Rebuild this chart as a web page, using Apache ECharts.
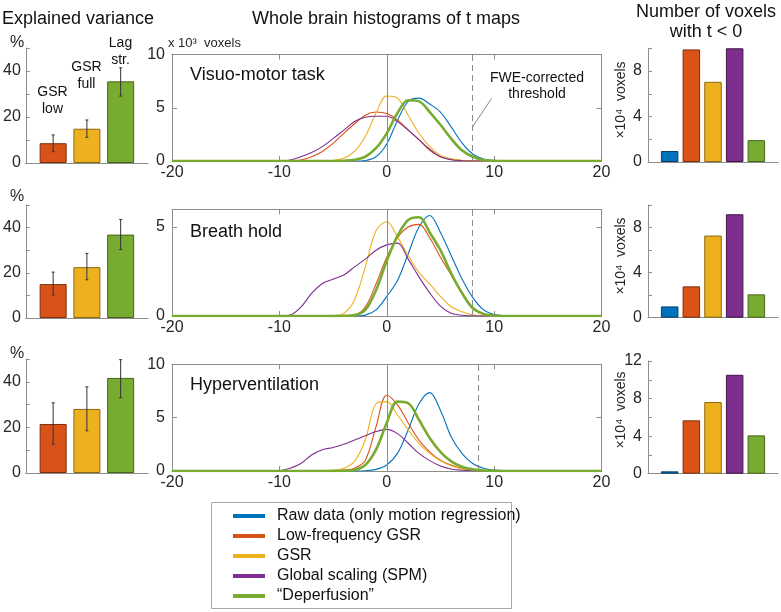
<!DOCTYPE html>
<html><head><meta charset="utf-8">
<script src="https://cdn.jsdelivr.net/npm/echarts/dist/echarts.min.js"></script>
<style>html,body{margin:0;padding:0;background:#fff}#c{width:781px;height:612px}</style>
</head><body><div id="c"></div>
<script>
// ---------------- DATA ----------------
const METHODS = ['Raw data (only motion regression)', 'Low-frequency GSR', 'GSR', 'Global scaling (SPM)', '\u201CDeperfusion\u201D'];
const CONDITIONS = ['Visuo-motor task', 'Breath hold', 'Hyperventilation'];
const EV_CATEGORIES = ['GSR\nlow', 'GSR\nfull', 'Lag\nstr.'];

// Explained variance (%) per condition: GSR low, GSR full, Lag str.
const EV_VISUO = [8.6, 14.9, 35.5];
const EV_VISUO_LO = [4.9, 11.2, 29.1];
const EV_VISUO_HI = [12.2, 18.7, 41.4];
const EV_BREATH = [15.0, 22.5, 36.9];
const EV_BREATH_LO = [10.2, 16.9, 30.3];
const EV_BREATH_HI = [20.3, 28.6, 43.6];
const EV_HYPER = [21.5, 28.1, 41.7];
const EV_HYPER_LO = [12.6, 18.5, 33.0];
const EV_HYPER_HI = [30.8, 37.8, 49.7];

// Number of voxels with t<0 (x10^4), per method
const NEG_VISUO = [0.97, 9.9, 7.05, 10.0, 1.92];
const NEG_BREATH = [1.0, 2.78, 7.29, 9.18, 2.07];
const NEG_HYPER = [0.25, 5.68, 7.63, 10.53, 4.08];

// Histogram t values
const T = [-20,-19,-18,-17,-16,-15,-14,-13,-12,-11,-10,-9,-8,-7,-6,-5,-4,-3,-2,-1,0,1,2,3,4,5,6,7,8,9,10,11,12,13,14,15,16,17,18,19,20];
// Histogram counts (x10^3 voxels)
const H_VISUO_RAW   = [0,0,0,0,0,0,0,0,0,0,0,0,0,0,0,0,0,0, 0.05,0.4,1.6,3.8,5.6,5.9,5.35,4.6,3.2,1.7,0.66,0.18,0.04, 0,0,0,0,0,0,0,0,0,0];
const H_VISUO_LFGSR = [0,0,0,0,0,0,0,0,0,0,0, 0.03,0.1,0.4,0.9,1.65,2.6,3.5,4.3,4.6,4.45,3.85,2.9,2.0,1.0,0.4,0.15,0.05,0.01, 0,0,0,0,0,0,0,0,0,0,0,0];
const H_VISUO_GSR   = [0,0,0,0,0,0,0,0,0,0,0,0,0,0, 0.01,0.05,0.25,0.9,2.3,4.5,6.1,5.9,4.3,2.6,1.35,0.55,0.2,0.05,0.01, 0,0,0,0,0,0,0,0,0,0,0,0];
const H_VISUO_GS    = [0,0,0,0,0,0,0,0,0,0, 0.03,0.1,0.4,0.8,1.35,2.1,2.9,3.7,4.1,4.2,4.2,3.7,2.9,2.0,1.1,0.4,0.12,0.03, 0,0,0,0,0,0,0,0,0,0,0,0,0];
const H_VISUO_DEP   = [0,0,0,0,0,0,0,0,0,0,0,0,0,0,0,0, 0.03,0.12,0.4,1.2,2.6,4.5,5.7,5.6,4.6,3.4,2.1,1.0,0.4,0.1,0.02, 0,0,0,0,0,0,0,0,0,0];

const H_BREATH_RAW   = [0,0,0,0,0,0,0,0,0,0,0,0,0,0,0,0,0,0, 0.05,0.34,1.1,2.0,3.5,5.0,5.65,4.7,3.4,2.1,1.05,0.36,0.08,0.02, 0,0,0,0,0,0,0,0,0];
const H_BREATH_LFGSR = [0,0,0,0,0,0,0,0,0,0,0,0,0,0,0,0, 0.01,0.05,0.5,1.8,3.3,4.4,5.0,5.15,4.4,3.3,2.3,1.3,0.5,0.12,0.03, 0,0,0,0,0,0,0,0,0,0];
const H_BREATH_GSR   = [0,0,0,0,0,0,0,0,0,0,0,0,0,0,0, 0.03,0.15,0.9,2.75,4.8,5.3,4.45,3.4,2.45,1.8,1.1,0.52,0.24,0.07,0.02, 0,0,0,0,0,0,0,0,0,0,0];
const H_BREATH_GS    = [0,0,0,0,0,0,0,0,0,0, 0.01,0.05,0.5,1.27,1.83,2.07,2.3,2.76,3.2,3.7,4.0,4.1,3.2,2.2,1.3,0.55,0.15,0.04,0.01, 0,0,0,0,0,0,0,0,0,0,0,0];
const H_BREATH_DEP   = [0,0,0,0,0,0,0,0,0,0,0,0,0,0,0,0, 0.01,0.05,0.34,1.45,3.1,4.5,5.4,5.55,4.7,3.7,2.4,1.3,0.45,0.12,0.03, 0,0,0,0,0,0,0,0,0,0];

const H_HYPER_RAW   = [0,0,0,0,0,0,0,0,0,0,0,0,0,0,0,0,0,0, 0.03,0.15,0.56,1.65,3.85,6.3,7.35,5.7,3.2,1.65,0.7,0.25,0.08,0.02, 0,0,0,0,0,0,0,0,0];
const H_HYPER_LFGSR = [0,0,0,0,0,0,0,0,0,0,0,0,0,0,0, 0.02,0.08,0.25,1.0,4.15,7.1,6.2,4.5,2.9,1.8,1.0,0.56,0.25,0.1,0.03, 0,0,0,0,0,0,0,0,0,0,0];
const H_HYPER_GSR   = [0,0,0,0,0,0,0,0,0,0,0,0,0,0, 0.02,0.08,0.25,0.9,2.9,6.3,6.5,5.25,3.85,2.6,1.65,0.97,0.5,0.2,0.07,0.02, 0,0,0,0,0,0,0,0,0,0,0];
const H_HYPER_GS    = [0,0,0,0,0,0,0,0,0,0, 0.03,0.25,0.7,1.5,2.0,2.2,2.5,2.9,3.3,3.7,3.9,3.5,2.6,1.65,0.97,0.47,0.19,0.07,0.02, 0,0,0,0,0,0,0,0,0,0,0,0];
const H_HYPER_DEP   = [0,0,0,0,0,0,0,0,0,0,0,0,0,0,0,0, 0.02,0.1,0.56,2.0,4.5,6.5,6.35,4.8,3.1,1.8,0.9,0.4,0.15,0.05,0.01, 0,0,0,0,0,0,0,0,0,0];

const FWE_THRESHOLD = [8.0, 8.0, 8.5];
const HIST_YMAX = [10, 6, 10];
const NEG_YMAX = [10, 10, 12];

// ---------------- STYLE / LAYOUT ----------------
const COLORS = ['#0072BD', '#D95319', '#EDB120', '#7E2F8E', '#77AC30'];
const EDGES = ['#0a3d63', '#7d2d0c', '#8c6812', '#3f1549', '#45661a'];
const EV_COLOR_IDX = [1, 2, 4];
const AX = '#8c8c8c', TXT = '#262626';
const FONT = '"Liberation Sans", Arial, Helvetica, sans-serif';

const LEFT_ROWS = [[48, 163], [205, 318], [359, 473]];
const MID_ROWS = [[54.5, 161], [209.3, 316], [364.3, 471]];
const RIGHT_ROWS = [[48.3, 162], [205, 317.7], [361, 473.7]];
const RIGHT_NAME_Y = [100, 256, 410];

const EV = [[EV_VISUO, EV_VISUO_LO, EV_VISUO_HI], [EV_BREATH, EV_BREATH_LO, EV_BREATH_HI], [EV_HYPER, EV_HYPER_LO, EV_HYPER_HI]];
const NEG = [NEG_VISUO, NEG_BREATH, NEG_HYPER];
const HIST = [
  [H_VISUO_RAW, H_VISUO_LFGSR, H_VISUO_GSR, H_VISUO_GS, H_VISUO_DEP],
  [H_BREATH_RAW, H_BREATH_LFGSR, H_BREATH_GSR, H_BREATH_GS, H_BREATH_DEP],
  [H_HYPER_RAW, H_HYPER_LFGSR, H_HYPER_GSR, H_HYPER_GS, H_HYPER_DEP]
];

const grids = [], xAxes = [], yAxes = [], series = [], graphics = [];
const lbl = (extra) => Object.assign({color: TXT, fontSize: 16, fontFamily: FONT}, extra);
const line = {show: true, onZero: false, lineStyle: {color: AX, width: 1}};

for (let r = 0; r < 3; r++) {
  // ---- left: explained variance ----
  let g = grids.push({left: 25, width: 123, top: LEFT_ROWS[r][0], height: LEFT_ROWS[r][1] - LEFT_ROWS[r][0]}) - 1;
  let xi = xAxes.push({type: 'value', gridIndex: g, min: 0.19, max: 3.81, axisLine: line, axisTick: {show: false}, axisLabel: {show: false}, splitLine: {show: false}}) - 1;
  let yi = yAxes.push({type: 'value', gridIndex: g, min: 0, max: 50, interval: 10, axisLine: line,
    axisTick: {show: true, inside: true, length: 4, lineStyle: {color: AX}}, splitLine: {show: false},
    axisLabel: lbl({margin: 5, formatter: v => (v % 20 === 0 ? String(v) : '')})}) - 1;
  const [vals, lo, hi] = EV[r];
  series.push({type: 'bar', xAxisIndex: xi, yAxisIndex: yi, barWidth: 27, silent: true,
    data: vals.map((v, i) => ({value: [i + 1, v], itemStyle: {color: COLORS[EV_COLOR_IDX[i]], borderColor: EDGES[EV_COLOR_IDX[i]], borderWidth: 1}}))});
  series.push({type: 'custom', xAxisIndex: xi, yAxisIndex: yi, silent: true, z: 10,
    data: vals.map((v, i) => [i + 1, lo[i], hi[i]]),
    renderItem: (p, api) => {
      const a = api.coord([api.value(0), api.value(1)]);
      const b = api.coord([api.value(0), api.value(2)]);
      const st = {stroke: '#333', lineWidth: 1};
      return {type: 'group', children: [
        {type: 'line', shape: {x1: a[0], y1: a[1], x2: b[0], y2: b[1]}, style: st},
        {type: 'line', shape: {x1: a[0] - 1.5, y1: a[1], x2: a[0] + 1.5, y2: a[1]}, style: st},
        {type: 'line', shape: {x1: b[0] - 1.5, y1: b[1], x2: b[0] + 1.5, y2: b[1]}, style: st}
      ]};
    }});

  // ---- middle: histograms ----
  g = grids.push({left: 172, width: 429.5, top: MID_ROWS[r][0], height: MID_ROWS[r][1] - MID_ROWS[r][0]}) - 1;
  xi = xAxes.push({type: 'value', gridIndex: g, min: -20, max: 20, interval: 10, axisLine: line,
    axisTick: {show: true, inside: true, length: 5, lineStyle: {color: AX}}, splitLine: {show: false},
    axisLabel: lbl({margin: 4})}) - 1;
  xAxes.push({type: 'value', gridIndex: g, position: 'top', min: -20, max: 20, interval: 10, axisLine: line,
    axisTick: {show: true, inside: true, length: 5, lineStyle: {color: AX}}, splitLine: {show: false}, axisLabel: {show: false}});
  yi = yAxes.push({type: 'value', gridIndex: g, min: 0, max: HIST_YMAX[r], interval: 5, axisLine: line,
    axisTick: {show: true, inside: true, length: 5, lineStyle: {color: AX}}, splitLine: {show: false},
    axisLabel: lbl({margin: 7, formatter: v => (v % 5 === 0 ? String(v) : '')})}) - 1;
  yAxes.push({type: 'value', gridIndex: g, position: 'right', min: 0, max: HIST_YMAX[r], interval: 5, axisLine: line,
    axisTick: {show: true, inside: true, length: 5, lineStyle: {color: AX}}, splitLine: {show: false}, axisLabel: {show: false}});
  HIST[r].forEach((arr, k) => {
    const s = {type: 'line', name: METHODS[k], xAxisIndex: xi, yAxisIndex: yi, showSymbol: false, symbol: 'none',
      smooth: 0.35, silent: true, z: k === 4 ? 5 : 3,
      data: T.map((t, i) => [t, arr[i]]),
      itemStyle: {color: COLORS[k]}, lineStyle: {color: COLORS[k], width: k === 4 ? 2.6 : 1.1}};
    if (k === 0) {
      s.markLine = {silent: true, symbol: ['none', 'none'], label: {show: false}, animation: false,
        data: [
          {xAxis: 0, lineStyle: {color: '#8c8c8c', type: 'solid', width: 1}},
          {xAxis: FWE_THRESHOLD[r], lineStyle: {color: '#8c8c8c', type: [6, 4], width: 1}}
        ]};
    }
    series.push(s);
  });

  // ---- right: number of voxels with t<0 ----
  g = grids.push({left: 648, width: 130, top: RIGHT_ROWS[r][0], height: RIGHT_ROWS[r][1] - RIGHT_ROWS[r][0]}) - 1;
  xi = xAxes.push({type: 'value', gridIndex: g, min: 0, max: 6, axisLine: line, axisTick: {show: false}, axisLabel: {show: false}, splitLine: {show: false}}) - 1;
  yi = yAxes.push({type: 'value', gridIndex: g, min: 0, max: NEG_YMAX[r], interval: 2, axisLine: line,
    axisTick: {show: true, inside: true, length: 4, lineStyle: {color: AX}}, splitLine: {show: false},
    axisLabel: lbl({margin: 6, formatter: v => (v % 4 === 0 ? String(v) : '')})}) - 1;
  series.push({type: 'bar', xAxisIndex: xi, yAxisIndex: yi, barWidth: 17.5, silent: true,
    data: NEG[r].map((v, i) => ({value: [i + 1, v], itemStyle: {color: COLORS[i], borderColor: EDGES[i], borderWidth: 1}}))});
  graphics.push({type: 'text', x: 621, y: RIGHT_NAME_Y[r], rotation: Math.PI / 2,
    style: {text: '\u00D710\u2074  voxels', fill: TXT, font: '14px ' + FONT, textAlign: 'center', textVerticalAlign: 'middle'}});

  // condition label
  graphics.push({type: 'text', left: 190, top: [66, 223, 376][r], style: {text: CONDITIONS[r], fill: '#111', font: '18px ' + FONT}});
}

// titles & annotations
const T_STYLE = (s) => Object.assign({fill: '#111', font: '18px ' + FONT, textAlign: 'center', textVerticalAlign: 'middle'}, s);
graphics.push(
  {type: 'text', x: 78, y: 19, style: T_STYLE({text: 'Explained variance'})},
  {type: 'text', x: 386, y: 19, style: T_STYLE({text: 'Whole brain histograms of t maps'})},
  {type: 'text', x: 706, y: 12, style: T_STYLE({text: 'Number of voxels'})},
  {type: 'text', x: 706, y: 32, style: T_STYLE({text: 'with t < 0'})},
  {type: 'text', x: 168, y: 43, style: {text: 'x 10\u00B3  voxels', fill: TXT, font: '13px ' + FONT, textVerticalAlign: 'middle'}},
  {type: 'text', x: 17, y: 43, style: T_STYLE({text: '%', fill: TXT, font: '16px ' + FONT})},
  {type: 'text', x: 17, y: 197, style: T_STYLE({text: '%', fill: TXT, font: '16px ' + FONT})},
  {type: 'text', x: 17, y: 354, style: T_STYLE({text: '%', fill: TXT, font: '16px ' + FONT})},
  {type: 'text', x: 52.5, y: 101, style: T_STYLE({text: EV_CATEGORIES[0], fill: '#111', font: '14px ' + FONT, lineHeight: 17})},
  {type: 'text', x: 86.5, y: 76, style: T_STYLE({text: EV_CATEGORIES[1], fill: '#111', font: '14px ' + FONT, lineHeight: 17})},
  {type: 'text', x: 120.5, y: 52, style: T_STYLE({text: EV_CATEGORIES[2], fill: '#111', font: '14px ' + FONT, lineHeight: 17})},
  {type: 'text', x: 537, y: 86, style: T_STYLE({text: 'FWE-corrected\nthreshold', fill: '#111', font: '14px ' + FONT, lineHeight: 16})},
  {type: 'line', shape: {x1: 472.7, y1: 126.7, x2: 491.7, y2: 98.3}, style: {stroke: '#8c8c8c', lineWidth: 1}},
  {type: 'rect', z: -10, shape: {x: 211.5, y: 502.5, width: 300, height: 106}, style: {fill: '#fff', stroke: '#a8a8a8', lineWidth: 1}}
);

const chart = echarts.init(document.getElementById('c'), null, {renderer: 'canvas'});
chart.setOption({
  animation: false,
  backgroundColor: '#fff',
  grid: grids, xAxis: xAxes, yAxis: yAxes, series: series,
  legend: {orient: 'vertical', left: 233, top: 508, height: 100, padding: 0, itemWidth: 32, itemHeight: 4, itemGap: 4, icon: 'rect',
    selectedMode: false, data: METHODS, z: 20,
    textStyle: {fontSize: 16, fontFamily: FONT, color: '#111', lineHeight: 16, padding: [0, 0, 0, 7]}},
  graphic: graphics
});
</script></body></html>
